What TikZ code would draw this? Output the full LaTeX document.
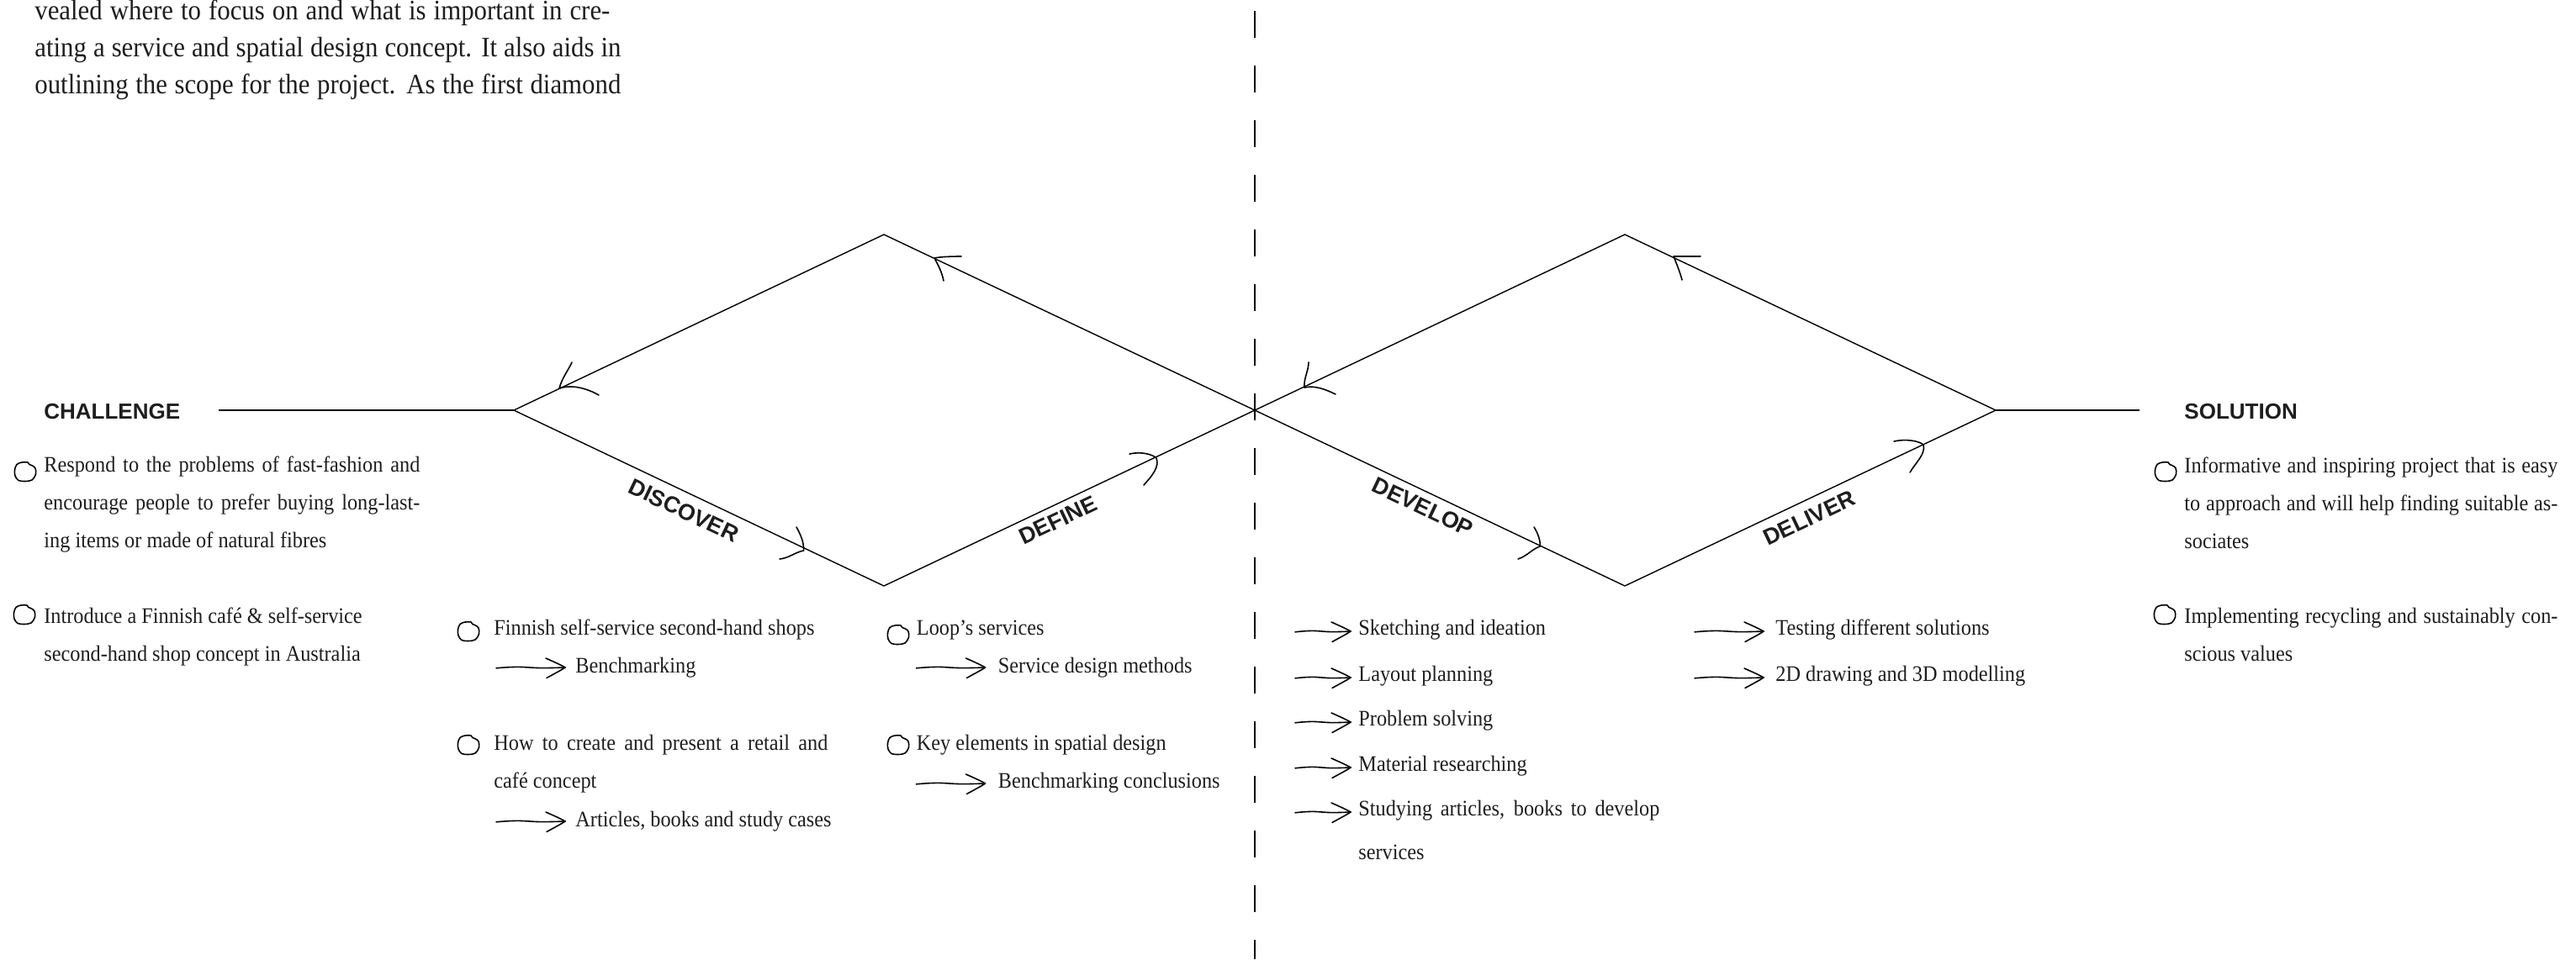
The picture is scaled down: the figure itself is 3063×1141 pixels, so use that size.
\documentclass[tikz,border=0pt]{standalone}
\usepackage{fontspec}
\setmainfont{Liberation Serif}[FakeStretch=0.92]
\newfontfamily\headfont{Liberation Sans}
\definecolor{ink}{HTML}{1E1E1E}
\tikzset{
  arrowlen/.store in=\arrowlen, arrowlen=82,
  body/.style={font=\fontsize{13.2}{22.6}\selectfont, inner sep=0pt, anchor=base west, text=ink},
  para/.style={font=\fontsize{16.75}{22}\selectfont, inner sep=0pt, anchor=base west, text=ink},
  head/.style={font=\headfont\bfseries\fontsize{13}{15}\selectfont, inner sep=0pt, anchor=base west, text=ink},
  phase/.style={font=\headfont\bfseries\fontsize{13.5}{15}\selectfont, sloped, anchor=north, text=ink},
  dline/.style={line width=0.7pt, draw=black},
  hand/.style={line width=0.8pt, line cap=round, line join=round, draw=black},
  blob/.pic={\draw[hand] plot[smooth cycle, tension=0.55] coordinates {(3,-11) (-4,-11) (-10,-8.5) (-12.5,-2) (-12,5) (-8,10.5) (0,11.5) (8,10) (12.5,3) (12,-4) (8.5,-7) (5,-8.5)};},
  harrow/.pic={
    \draw[hand] plot[smooth, tension=0.7] coordinates {(0,0.8) ({0.3*\arrowlen},-0.6) ({0.65*\arrowlen},0.6) (\arrowlen,0)};
    \draw[hand] ({\arrowlen-23},-11) .. controls ({\arrowlen-14},-7) and ({\arrowlen-5},-3) .. (\arrowlen,0)
       .. controls ({\arrowlen-6},4) and ({\arrowlen-14},8) .. ({\arrowlen-22},12.5);},
}
\begin{document}
\begin{tikzpicture}[x=0.5pt,y=-0.5pt]
\fill[white] (0,0) rectangle (3063,1141);
\useasboundingbox (0,0) rectangle (3063,1141);

% intro paragraph
\node[para] (p1) at (41,23) {\hbox to 342pt{vealed where to focus on and what is important in cre-}};
\node[para] (p2) at (41,67) {\hbox to 348.5pt{ating a service and spatial design concept. It also aids in}};
\node[para] (p3) at (41,111) {\hbox to 348.5pt{outlining the scope for the project. As the first diamond}};

% dashed divider
\coordinate (dtop) at (1492,0);
\coordinate (dbot) at (1492,1141);
\draw[line width=0.9pt, dash pattern=on 16pt off 16.5pt, dash phase=26pt] (dtop) -- (dbot);

% diamonds
\coordinate (chL) at (260,488);
\coordinate (L1) at (611,488);
\coordinate (T1) at (1051,279);
\coordinate (B1) at (1051,697);
\coordinate (C) at (1492,488);
\coordinate (T2) at (1932,279);
\coordinate (B2) at (1932,697);
\coordinate (R2) at (2373,488);
\coordinate (soR) at (2544,488);

\draw[dline, line width=0.8pt] (chL) -- (L1);
\draw[dline, line width=0.8pt] (R2) -- (soR);
\draw[dline] (L1) -- (T1) -- (C) -- (T2) -- (R2);
\draw[dline] (L1) -- node[phase, pos=0.48, inner sep=5.4pt] (discover) {DISCOVER} (B1);
\draw[dline] (B1) -- node[phase, pos=0.452, inner sep=3.9pt] (define) {DEFINE} (C);
\draw[dline] (C) -- node[phase, pos=0.472, inner sep=3.9pt] (develop) {DEVELOP} (B2);
\draw[dline] (B2) -- node[phase, pos=0.477, inner sep=5.3pt] (deliver) {DELIVER} (R2);

% hand-drawn arrowheads on the diamonds
\draw[hand] (1143,305) .. controls (1130,305) and (1118,305.5) .. (1111,307) .. controls (1116,316) and (1120,324) .. (1122,334);
\draw[hand] (680,431) .. controls (676,440) and (668,450) .. (665,462) .. controls (680,457) and (698,462) .. (712,470);
\draw[hand] (947,627) .. controls (952,636) and (956,645) .. (955.6,655) .. controls (945,657) and (938,664) .. (927,665);
\draw[hand] (1343,540) .. controls (1356,537) and (1370,540) .. (1375,545) .. controls (1379,555) and (1370,566) .. (1360,577);
\draw[hand] (2022,305) .. controls (2010,305) and (1998,305) .. (1990,305) .. controls (1994,315) and (1998,325) .. (2000,333);
\draw[hand] (1556,431) .. controls (1556,441) and (1550,450) .. (1551,461) .. controls (1564,458) and (1578,464) .. (1588,469);
\draw[hand] (1824,627) .. controls (1829,635) and (1832,644) .. (1831,650) .. controls (1822,653) and (1815,662) .. (1805,665);
\draw[hand] (2252,525) .. controls (2265,522) and (2281,524) .. (2287,529) .. controls (2290,540) and (2278,550) .. (2271,562);

% challenge
\node[head] (challenge) at (52,498) {CHALLENGE};
\pic (b1) at (30,561) {blob};
\node[body] (ch1) at (52,561) {\vtop{\hbox to 223.5pt{Respond to the problems of fast-fashion and}\hbox to 223.5pt{encourage people to prefer buying long-last-}\hbox{ing items or made of natural fibres}}};
\pic (b2) at (29,731) {blob};
\node[body] (ch2) at (52,741) {\vtop{\hbox{Introduce a Finnish café \& self-service}\hbox{second-hand shop concept in Australia}}};

% discover column
\pic (b3) at (557,751) {blob};
\node[body] (di1) at (587,755) {Finnish self-service second-hand shops};
\pic (a1) at (590,794) {harrow};
\node[body] (di1a) at (684,800) {Benchmarking};
\pic (b4) at (557,886) {blob};
\node[body] (di2) at (587,892) {\vtop{\hbox to 198.5pt{How to create and present a retail and}\hbox{café concept}}};
\pic (a2) at (590,977) {harrow};
\node[body] (di2a) at (684,983) {Articles, books and study cases};

% define column
\pic (b5) at (1068,755) {blob};
\node[body] (de1) at (1089.5,755) {Loop’s services};
\pic (a3) at (1089.5,794) {harrow};
\node[body] (de1a) at (1186.5,800) {Service design methods};
\pic (b6) at (1068,886) {blob};
\node[body] (de2) at (1089.5,892) {Key elements in spatial design};
\pic (a4) at (1089.5,932) {harrow};
\node[body] (de2a) at (1186.5,937) {Benchmarking conclusions};

% develop column
\pic[arrowlen=66] (a5) at (1540,751) {harrow};
\node[body] (dv1) at (1615,755) {Sketching and ideation};
\pic[arrowlen=66] (a6) at (1540,806) {harrow};
\node[body] (dv2) at (1615,810) {Layout planning};
\pic[arrowlen=66] (a7) at (1540,859) {harrow};
\node[body] (dv3) at (1615,863) {Problem solving};
\pic[arrowlen=66] (a8) at (1540,913) {harrow};
\node[body] (dv4) at (1615,917) {Material researching};
\pic[arrowlen=66] (a9) at (1540,966) {harrow};
\node[body] (dv5) at (1615,970) {\vtop{\baselineskip=26pt\hbox to 179pt{Studying articles, books to develop}\hbox{services}}};

% deliver column
\pic (a10) at (2015,751) {harrow};
\node[body] (dl1) at (2111,755) {Testing different solutions};
\pic (a11) at (2015,806) {harrow};
\node[body] (dl2) at (2111,810) {2D drawing and 3D modelling};

% solution
\node[head] (solution) at (2597,498) {SOLUTION};
\pic (b7) at (2575,561) {blob};
\node[body] (so1) at (2597,562) {\vtop{\hbox to 222pt{Informative and inspiring project that is easy}\hbox to 222pt{to approach and will help finding suitable as-}\hbox{sociates}}};
\pic (b8) at (2574,731) {blob};
\node[body] (so2) at (2597,741) {\vtop{\hbox to 222pt{Implementing recycling and sustainably con-}\hbox{scious values}}};
\end{tikzpicture}
\end{document}
